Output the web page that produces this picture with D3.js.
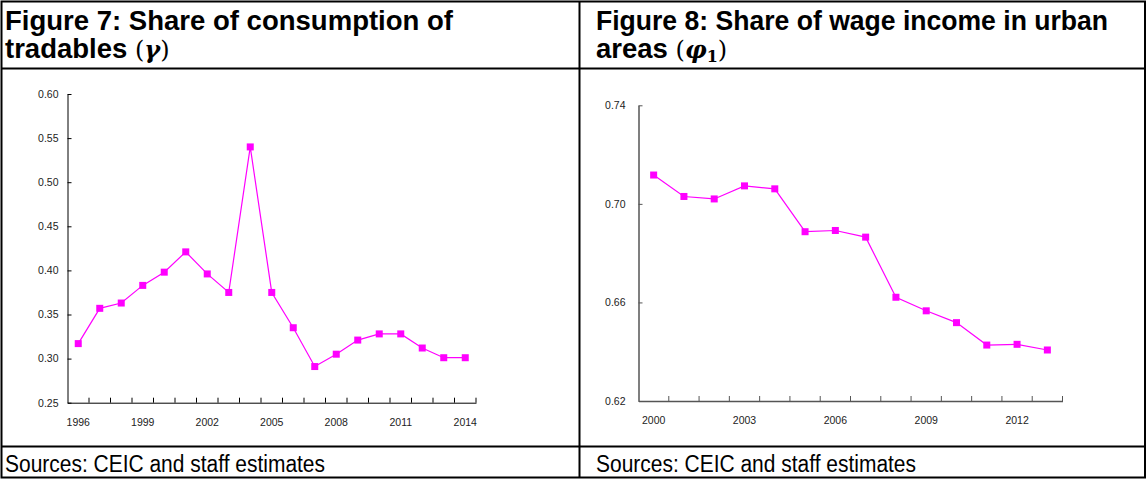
<!DOCTYPE html>
<html><head><meta charset="utf-8">
<script src="https://cdn.jsdelivr.net/npm/d3@7"></script>
<style>
html,body{margin:0;padding:0;background:#fff;}
svg{display:block;font-family:"Liberation Sans",Arial,sans-serif;}
</style></head>
<body>
<svg id="c" width="1147" height="479"></svg>
<script>
// ---- data ----
const years7 = [1996,1997,1998,1999,2000,2001,2002,2003,2004,2005,2006,2007,2008,2009,2010,2011,2012,2013,2014];
const gamma = [0.317,0.357,0.363,0.383,0.398,0.421,0.396,0.375,0.540,0.375,0.335,0.291,0.305,0.321,0.328,0.328,0.312,0.301,0.301];
const yTicks7 = [0.25,0.30,0.35,0.40,0.45,0.50,0.55,0.60];
const xLabels7 = [1996,1999,2002,2005,2008,2011,2014];

const years8 = [2000,2001,2002,2003,2004,2005,2006,2007,2008,2009,2010,2011,2012,2013];
const phi1 = [0.7117,0.7030,0.7020,0.7073,0.7061,0.6887,0.6892,0.6865,0.6621,0.6566,0.6518,0.6427,0.6430,0.6407];
const yTicks8 = [0.62,0.66,0.70,0.74];
const xLabels8 = [2000,2003,2006,2009,2012];

const svg = d3.select("#c");

// ---- table frame ----
const frame = svg.append("g").attr("stroke","#000").attr("stroke-width",2).attr("fill","none");
frame.append("rect").attr("x",1.5).attr("y",1.5).attr("width",1143.5).attr("height",476);
frame.append("line").attr("x1",579.5).attr("x2",579.5).attr("y1",1).attr("y2",478);
frame.append("line").attr("x1",1).attr("x2",1146).attr("y1",68.5).attr("y2",68.5);
frame.append("line").attr("x1",1).attr("x2",1146).attr("y1",446.5).attr("y2",446.5);

// ---- titles ----
function title(x, l1, l2, sym, sub, len1){
  const t = svg.append("g");
  t.append("text").attr("x",x).attr("y",30).attr("font-size",27.5).attr("font-weight","bold")
    .attr("textLength",len1).attr("lengthAdjust","spacingAndGlyphs").text(l1);
  const t2 = t.append("text").attr("x",x).attr("y",58).attr("font-size",27.5);
  t2.append("tspan").attr("font-weight","bold").text(l2 + " ");
  t2.append("tspan").attr("font-family","'DejaVu Serif','Liberation Serif',serif").attr("font-size",24).text("(");
  t2.append("tspan").attr("font-family","'DejaVu Serif','Liberation Serif',serif").attr("font-weight","bold").attr("font-style","italic").attr("font-size",24).text(sym);
  if(sub){
    t2.append("tspan").attr("font-family","'DejaVu Serif','Liberation Serif',serif").attr("font-weight","bold").attr("font-size",16).attr("dy",4).text(sub);
    t2.append("tspan").attr("font-family","'DejaVu Serif','Liberation Serif',serif").attr("font-size",24).attr("dy",-4).text(")");
  } else {
    t2.append("tspan").attr("font-family","'DejaVu Serif','Liberation Serif',serif").attr("font-size",24).text(")");
  }
}
title(5, "Figure 7: Share of consumption of", "tradables", "γ", null, 448);
title(596, "Figure 8: Share of wage income in urban", "areas", "φ", "1", 512);

// ---- footers ----
svg.append("text").attr("x",5).attr("y",472).attr("font-size",23).attr("textLength",320).attr("lengthAdjust","spacingAndGlyphs").text("Sources: CEIC and staff estimates");
svg.append("text").attr("x",596).attr("y",472).attr("font-size",23).attr("textLength",320).attr("lengthAdjust","spacingAndGlyphs").text("Sources: CEIC and staff estimates");

// ---- chart function ----
function chart(opts){
  const {years, vals, yTicks, xLabels, x0, x1, yTop, yBot, domain, fmt, pad, axisColor, axisW} = opts;
  const g = svg.append("g");
  const x = d3.scaleBand().domain(years).range([x0,x1]).padding(0);
  const y = d3.scaleLinear().domain(domain).range([yBot,yTop]);

  // y axis
  const ya = g.append("g").attr("transform",`translate(${x0},0)`)
    .call(d3.axisLeft(y).tickValues(yTicks).tickFormat(fmt).tickSizeInner(-4).tickSizeOuter(0).tickPadding(pad));
  ya.select(".domain").attr("stroke",axisColor).attr("stroke-width",axisW);
  ya.selectAll(".tick line").attr("stroke",axisColor);
  ya.selectAll("text").attr("font-size",10.5).attr("fill","#222").attr("font-family","'Liberation Sans',Arial,sans-serif");

  // x axis
  const xa = g.append("g").attr("transform",`translate(0,${yBot})`)
    .call(d3.axisBottom(x).tickValues(xLabels).tickSize(0).tickPadding(16));
  xa.select(".domain").attr("stroke",axisColor).attr("stroke-width",axisW);
  xa.selectAll("text").attr("font-size",10.5).attr("fill","#222").attr("font-family","'Liberation Sans',Arial,sans-serif");
  // boundary ticks (inside)
  const bounds = years.map(d => x(d)).concat([x(years[years.length-1]) + x.step()]);
  g.append("g").selectAll("line").data(bounds.slice(1)).join("line")
    .attr("x1",d=>d).attr("x2",d=>d).attr("y1",yBot).attr("y2",yBot-5)
    .attr("stroke",axisColor).attr("stroke-width",1);

  // line + markers
  const pts = years.map((d,i)=>[x(d)+x.bandwidth()/2, y(vals[i])]);
  g.append("path").attr("d",d3.line()(pts)).attr("fill","none").attr("stroke","#FF00FF").attr("stroke-width",1.2);
  g.append("g").selectAll("rect").data(pts).join("rect")
    .attr("x",d=>d[0]-3.5).attr("y",d=>d[1]-3.5).attr("width",7).attr("height",7).attr("fill","#FF00FF");
}

chart({years:years7, vals:gamma, yTicks:yTicks7, xLabels:xLabels7, x0:67.5, x1:476, yTop:94, yBot:402.7,
  domain:[0.25,0.60], fmt:d3.format(".2f"), pad:9, axisColor:"#000", axisW:1});
chart({years:years8, vals:phi1, yTicks:yTicks8, xLabels:xLabels8, x0:638.5, x1:1062.5, yTop:105.3, yBot:401,
  domain:[0.62,0.74], fmt:d3.format(".2f"), pad:13, axisColor:"#555", axisW:1.5});
</script>
</body></html>
